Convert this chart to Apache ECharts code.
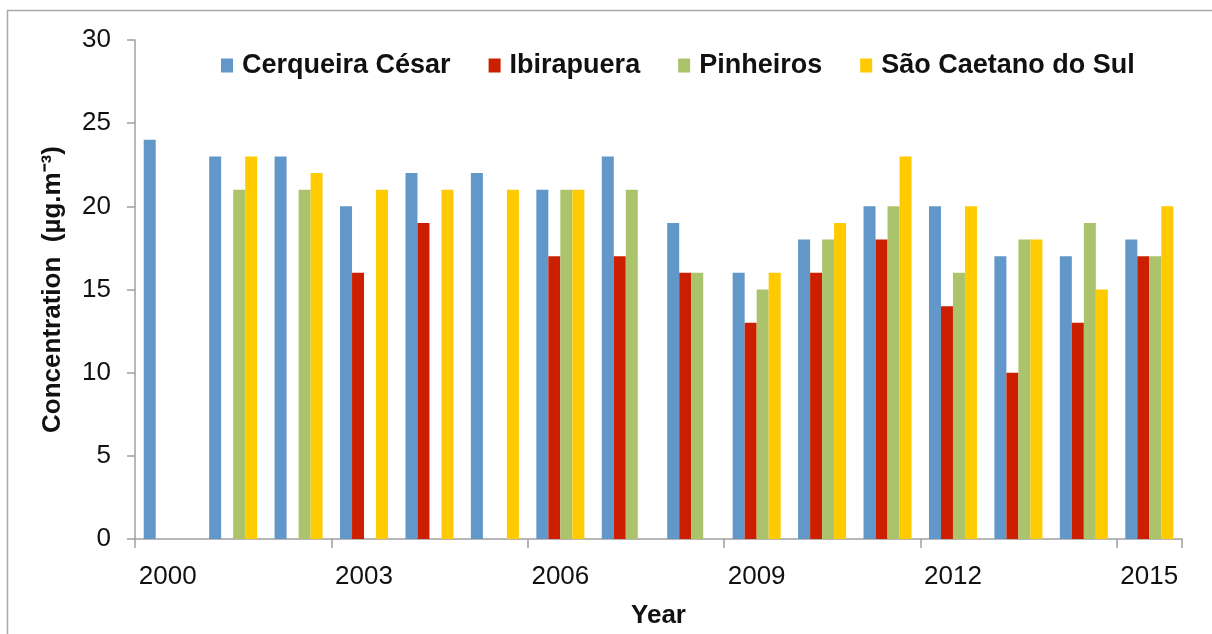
<!DOCTYPE html>
<html>
<head>
<meta charset="utf-8">
<script src="https://cdn.jsdelivr.net/npm/echarts@6/dist/echarts.min.js"></script>
<style>
html,body{margin:0;padding:0;background:#fff;}
#chart{width:1212px;height:634px;}
</style>
</head>
<body>
<div id="chart"></div>
<script>
var years = ['2000','2001','2002','2003','2004','2005','2006','2007','2008','2009','2010','2011','2012','2013','2014','2015'];
var cerqueiraCesar = [24, 23, 23, 20, 22, 22, 21, 23, 19, 16, 18, 20, 20, 17, 17, 18];
var ibirapuera     = [null, null, null, 16, 19, null, 17, 17, 16, 13, 16, 18, 14, 10, 13, 17];
var pinheiros      = [null, 21, 21, null, null, null, 21, 21, 16, 15, 18, 20, 16, 18, 19, 17];
var saoCaetano     = [null, 23, 22, 21, 21, 21, 21, null, null, 16, 19, 23, 20, 18, 15, 20];
var seriesNames = ['Cerqueira César', 'Ibirapuera', 'Pinheiros', 'São Caetano do Sul'];
var seriesColors = ['#6297ca', '#cc1f00', '#abc46c', '#ffcb00'];
var yTicks = [0, 5, 10, 15, 20, 25, 30];

var chart = echarts.init(document.getElementById('chart'));
var font = '"Liberation Sans", Arial, Helvetica, sans-serif';
var dataSets = [cerqueiraCesar, ibirapuera, pinheiros, saoCaetano];

var option = {
  backgroundColor: '#fff',
  animation: false,
  graphic: [{
    type: 'rect',
    shape: {x: 7.5, y: 10.5, width: 1300, height: 700},
    style: {fill: 'none', stroke: '#a8a8a8', lineWidth: 1.5},
    silent: true
  }],
  legend: {
    left: 216,
    top: 47,
    itemWidth: 12,
    itemHeight: 14,
    itemGap: 38,
    icon: 'rect',
    textStyle: {fontFamily: font, fontSize: 27, fontWeight: 'bold', color: '#111', padding: [0, 0, 0, 4]},
    data: seriesNames
  },
  grid: {left: 135, right: 30, top: 40, height: 508, containLabel: false},
  xAxis: {
    type: 'category',
    data: years,
    name: 'Year',
    nameLocation: 'middle',
    nameGap: 64,
    nameTextStyle: {fontFamily: font, fontSize: 26, fontWeight: 'bold', color: '#111'},
    axisLine: {lineStyle: {color: '#a0a0a0', width: 1.5}},
    axisTick: {show: true, interval: 2, length: 9, lineStyle: {color: '#a0a0a0', width: 1.5}},
    axisLabel: {interval: 2, margin: 25, fontFamily: font, fontSize: 26, color: '#111'}
  },
  yAxis: {
    type: 'value',
    min: yTicks[0],
    max: yTicks[yTicks.length - 1],
    interval: 5,
    name: 'Concentration  (µg.m⁻³)',
    nameLocation: 'middle',
    nameGap: 69,
    nameTextStyle: {fontFamily: font, fontSize: 26, fontWeight: 'bold', color: '#111'},
    splitLine: {show: false},
    axisLine: {show: true, lineStyle: {color: '#a0a0a0', width: 1.5}},
    axisTick: {show: true, length: 8, lineStyle: {color: '#a0a0a0', width: 1.5}},
    axisLabel: {margin: 24, fontFamily: font, fontSize: 26, color: '#111'}
  },
  series: seriesNames.map(function (n, i) {
    return {
      name: n,
      type: 'bar',
      barWidth: 12,
      barGap: '0%',
      itemStyle: {color: seriesColors[i]},
      data: dataSets[i]
    };
  })
};
chart.setOption(option);
</script>
</body>
</html>
